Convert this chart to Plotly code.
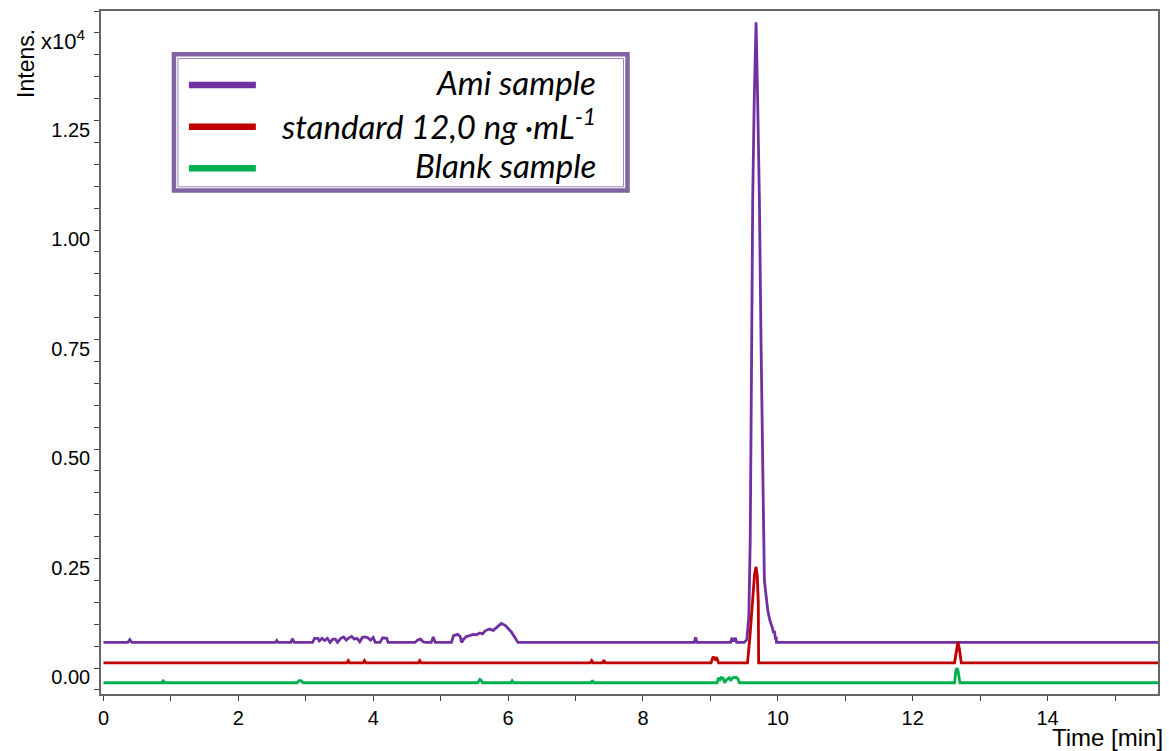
import plotly.graph_objects as go

# ---- data (intensity in units of 1e4) ----
ami_time = [0.0, 0.36, 0.39, 0.42, 2.55, 2.57, 2.59, 2.78, 2.80, 2.83,
            3.10, 3.13, 3.18, 3.20, 3.24, 3.28, 3.32, 3.36, 3.40, 3.44, 3.47,
            3.52, 3.56, 3.60, 3.64, 3.68, 3.72, 3.76, 3.80, 3.84, 3.88, 3.92,
            3.96, 4.00, 4.03, 4.10, 4.14, 4.20, 4.22, 4.62, 4.66, 4.70, 4.74,
            4.78, 4.86, 4.89, 4.92, 5.16, 5.19, 5.25, 5.29, 5.31, 5.34, 5.38,
            5.43, 5.48, 5.53, 5.58, 5.62, 5.66, 5.72, 5.78, 5.84, 5.90, 5.96,
            6.00, 6.05, 6.10, 6.145, 8.76, 8.78, 8.80, 9.30, 9.32, 9.34, 9.37,
            9.39, 9.50, 9.54, 9.57, 9.59, 9.61, 9.627, 9.65, 9.677, 9.70,
            9.726, 9.75, 9.785, 9.80, 9.85, 9.88, 9.92, 9.935, 9.95, 9.965,
            9.975, 9.98, 15.64]
ami_int = [0.0585, 0.0585, 0.065, 0.0585, 0.0585, 0.063, 0.0585, 0.0585, 0.067, 0.0585,
           0.0585, 0.068, 0.068, 0.062, 0.068, 0.063, 0.068, 0.0585, 0.066, 0.066, 0.0585,
           0.068, 0.071, 0.064, 0.069, 0.072, 0.066, 0.068, 0.060, 0.070, 0.071, 0.069,
           0.064, 0.070, 0.0585, 0.0585, 0.069, 0.068, 0.0585, 0.0585, 0.064, 0.066, 0.060,
           0.0585, 0.0585, 0.071, 0.0585, 0.0585, 0.074, 0.077, 0.072, 0.0585, 0.066, 0.072,
           0.074, 0.077, 0.076, 0.080, 0.078, 0.085, 0.089, 0.086, 0.094, 0.102, 0.097,
           0.091, 0.082, 0.070, 0.0585, 0.0585, 0.070, 0.0585, 0.0585, 0.069, 0.061, 0.069,
           0.0585, 0.0585, 0.065, 0.12, 0.29, 0.70, 1.07, 1.30, 1.474, 1.30,
           1.07, 0.75, 0.29, 0.20, 0.132, 0.11, 0.091, 0.08, 0.085, 0.065,
           0.072, 0.0585, 0.0585]

std_time = [0.0, 3.61, 3.63, 3.65, 3.85, 3.87, 3.89, 4.67, 4.69, 4.71,
            7.22, 7.24, 7.26, 7.40, 7.42, 7.44, 9.01, 9.04, 9.07, 9.09, 9.12,
            9.55, 9.585, 9.62, 9.655, 9.677, 9.695, 9.71, 9.715,
            12.62, 12.65, 12.67, 12.69, 12.72, 15.64]
std_int = [0.012, 0.012, 0.017, 0.012, 0.012, 0.017, 0.012, 0.012, 0.017, 0.012,
           0.012, 0.017, 0.012, 0.012, 0.018, 0.012, 0.012, 0.026, 0.020, 0.025, 0.012,
           0.012, 0.07, 0.15, 0.215, 0.231, 0.21, 0.15, 0.012,
           0.012, 0.045, 0.060, 0.045, 0.012, 0.012]

blank_time = [0.0, 0.87, 0.886, 0.90, 2.87, 2.90, 2.93, 2.96, 5.55, 5.58, 5.60, 5.62,
              6.04, 6.06, 6.08, 7.23, 7.25, 7.27, 9.10, 9.12, 9.14, 9.16, 9.19, 9.21,
              9.25, 9.28, 9.30, 9.33, 9.38, 9.41, 9.43, 12.62, 12.64, 12.655, 12.67,
              12.70, 15.64]
blank_int = [-0.0335, -0.0335, -0.027, -0.0335, -0.0335, -0.029, -0.029, -0.0335,
             -0.0335, -0.026, -0.028, -0.0335, -0.0335, -0.029, -0.0335, -0.0335,
             -0.028, -0.0335, -0.0335, -0.022, -0.029, -0.022, -0.023, -0.0335,
             -0.025, -0.022, -0.029, -0.022, -0.021, -0.025, -0.0335, -0.0335,
             -0.005, 0.0, -0.005, -0.0335, -0.0335]

names = ['Ami sample', 'standard 12,0 ng ·mL<sup>-1</sup>', 'Blank sample']
colors = ['#7030A0', '#C00000', '#00B050']
y_ticks = [0.0, 0.25, 0.50, 0.75, 1.00, 1.25]
x_ticks = [0, 2, 4, 6, 8, 10, 12, 14]

# plot area in pixels
L, R, T, B = 101, 1159, 9, 694


def px_x(px):
    return (px - L) / (R - L)


def px_y(py):
    return (B - py) / (B - T)


fig = go.Figure()
for t, v, name, c in zip([ami_time, std_time, blank_time],
                         [ami_int, std_int, blank_int], names, colors):
    fig.add_trace(go.Scatter(x=t, y=v, mode='lines', name=name,
                             line=dict(color=c, width=2.8), showlegend=False))

axis_font = dict(family='Arial, Liberation Sans', size=20, color='black')

fig.update_xaxes(range=[-0.037, 15.637], tickvals=x_ticks,
                 ticktext=[str(v) for v in x_ticks], ticks='outside', ticklen=5,
                 tickcolor='#444', tickfont=axis_font,
                 minor=dict(dtick=1, ticks='outside', ticklen=5, tickcolor='#444'),
                 showline=True, linecolor='#666', linewidth=1.5, mirror=True,
                 showgrid=False, zeroline=False)
fig.update_yaxes(range=[-0.0592, 1.5], tickvals=y_ticks,
                 ticktext=['%.2f' % v for v in y_ticks], ticks='outside', ticklen=5,
                 tickcolor='#444', tickfont=axis_font, ticklabelshift=9,
                 minor=dict(dtick=0.05, ticks='outside', ticklen=5, tickcolor='#444'),
                 showline=True, linecolor='#666', linewidth=1.5, mirror=True,
                 showgrid=False, zeroline=False)

# legend box drawn by hand (text right aligned as in the original)
shapes = [
    dict(type='rect', xref='paper', yref='paper', x0=px_x(174), x1=px_x(628),
         y0=px_y(189), y1=px_y(52.5), line=dict(color='#8064A2', width=4.5),
         fillcolor='white', layer='above'),
    dict(type='rect', xref='paper', yref='paper', x0=px_x(178), x1=px_x(624),
         y0=px_y(185.3), y1=px_y(56.7), line=dict(color='#9C86BB', width=1)),
]
annotations = []
for yy, name, c in zip([83.3, 125, 166.7], names, colors):
    shapes.append(dict(type='line', xref='paper', yref='paper', x0=px_x(189), x1=px_x(256),
                       y0=px_y(yy), y1=px_y(yy), line=dict(color=c, width=6.5)))
    annotations.append(dict(text='<i>%s</i>' % name, xref='paper', yref='paper',
                            x=px_x(598), y=px_y(yy - 3), xanchor='right', yanchor='middle',
                            showarrow=False,
                            font=dict(family='Lato', size=33, color='black')))

annotations += [
    dict(text='Intens.', xref='paper', yref='paper', x=px_x(26), y=px_y(62),
         xanchor='center', yanchor='middle', textangle=-90, showarrow=False,
         font=dict(family='Arial, Liberation Sans', size=23, color='black')),
    dict(text='x10<sup>4</sup>', xref='paper', yref='paper', x=px_x(39), y=px_y(38),
         xanchor='left', yanchor='middle', showarrow=False,
         font=dict(family='Arial, Liberation Sans', size=22, color='black')),
    dict(text='Time [min]', xref='paper', yref='paper', x=px_x(1166), y=px_y(738),
         xanchor='right', yanchor='middle', showarrow=False,
         font=dict(family='Arial, Liberation Sans', size=24, color='black')),
]

fig.update_layout(width=1169, height=751,
                  margin=dict(l=L, r=1169 - R, t=T, b=751 - B),
                  plot_bgcolor='white', paper_bgcolor='white',
                  shapes=shapes, annotations=annotations)

# drop the default page margin so the figure sits at the window's corner
fig.write_html("out.html", config={'displayModeBar': False},
               post_script="document.body.style.margin='0';document.body.style.overflow='hidden';")
